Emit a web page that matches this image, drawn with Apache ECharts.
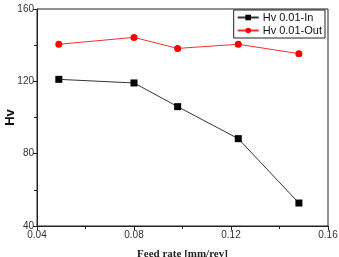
<!DOCTYPE html>
<html>
<head>
<meta charset="utf-8">
<script src="https://cdn.jsdelivr.net/npm/echarts@6/dist/echarts.min.js"></script>
<style>
  html, body { margin: 0; padding: 0; background: #fff; }
  #main { width: 339px; height: 257px; }
</style>
</head>
<body>
<div id="main"></div>
<script>
// feed rate [mm/rev]
const feedRate = [0.049, 0.080, 0.098, 0.123, 0.148]
// Hv 0.01
const hvIn = [121.1, 119.1, 106.0, 88.3, 52.7]
const hvOut = [140.5, 144.3, 138.2, 140.5, 135.3]
const seriesNames = ['Hv 0.01-In', 'Hv 0.01-Out']

const pairs = (xs, ys) => xs.map((x, i) => [x, ys[i]])

const chart = echarts.init(document.getElementById('main'))
const option = {
  animation: false,
  grid: {
    left: 37,
    right: 11,
    top: 9,
    bottom: 31,
    outerBoundsMode: 'none',
    containLabel: false,
    show: true,
    borderColor: '#222',
    borderWidth: 1
  },
  legend: {
    orient: 'vertical',
    right: 14,
    top: 10,
    itemWidth: 21,
    itemHeight: 7,
    itemGap: 2,
    padding: [2, 3, 2, 3],
    borderColor: '#222',
    borderWidth: 1,
    borderRadius: 0,
    textStyle: {
      fontFamily: 'Liberation Sans, Arial',
      fontSize: 11,
      color: '#111',
      padding: [0, 0, 0, -1]
    },
    data: seriesNames
  },
  xAxis: {
    type: 'value',
    min: 0.04,
    max: 0.16,
    interval: 0.04,
    name: 'Feed rate [mm/rev]',
    nameLocation: 'middle',
    nameGap: 23,
    nameMoveOverlap: false,
    nameTextStyle: {
      fontFamily: 'Liberation Serif, Times New Roman',
      fontWeight: 'bold',
      fontSize: 11,
      color: '#222'
    },
    axisLine: { lineStyle: { color: '#222' } },
    axisTick: { length: 4, lineStyle: { color: '#222' } },
    minorTick: { show: true, splitNumber: 2, length: 3, lineStyle: { color: '#222' } },
    splitLine: { show: false },
    axisLabel: {
      fontFamily: 'Liberation Sans, Arial',
      fontSize: 10,
      color: '#333',
      margin: 4,
      formatter: v => v.toFixed(2)
    }
  },
  yAxis: {
    type: 'value',
    min: 40,
    max: 160,
    interval: 40,
    name: 'Hv',
    nameLocation: 'middle',
    nameGap: 20,
    nameMoveOverlap: false,
    nameTextStyle: {
      fontFamily: 'Liberation Sans, Arial',
      fontWeight: 'bold',
      fontSize: 13,
      color: '#111'
    },
    axisLine: { lineStyle: { color: '#222' } },
    axisTick: { length: 4, lineStyle: { color: '#222' } },
    minorTick: { show: true, splitNumber: 2, length: 3, lineStyle: { color: '#222' } },
    splitLine: { show: false },
    axisLabel: {
      fontFamily: 'Liberation Sans, Arial',
      fontSize: 10,
      color: '#333',
      margin: 3
    }
  },
  series: [
    {
      name: seriesNames[0],
      type: 'line',
      data: pairs(feedRate, hvIn),
      symbol: 'rect',
      symbolSize: 7,
      itemStyle: { color: '#000' },
      lineStyle: { color: '#333', width: 1 }
    },
    {
      name: seriesNames[1],
      type: 'line',
      data: pairs(feedRate, hvOut),
      symbol: 'circle',
      symbolSize: 7,
      itemStyle: { color: '#f00' },
      lineStyle: { color: '#f03030', width: 1 }
    }
  ]
}
chart.setOption(option, true)
</script>
</body>
</html>
